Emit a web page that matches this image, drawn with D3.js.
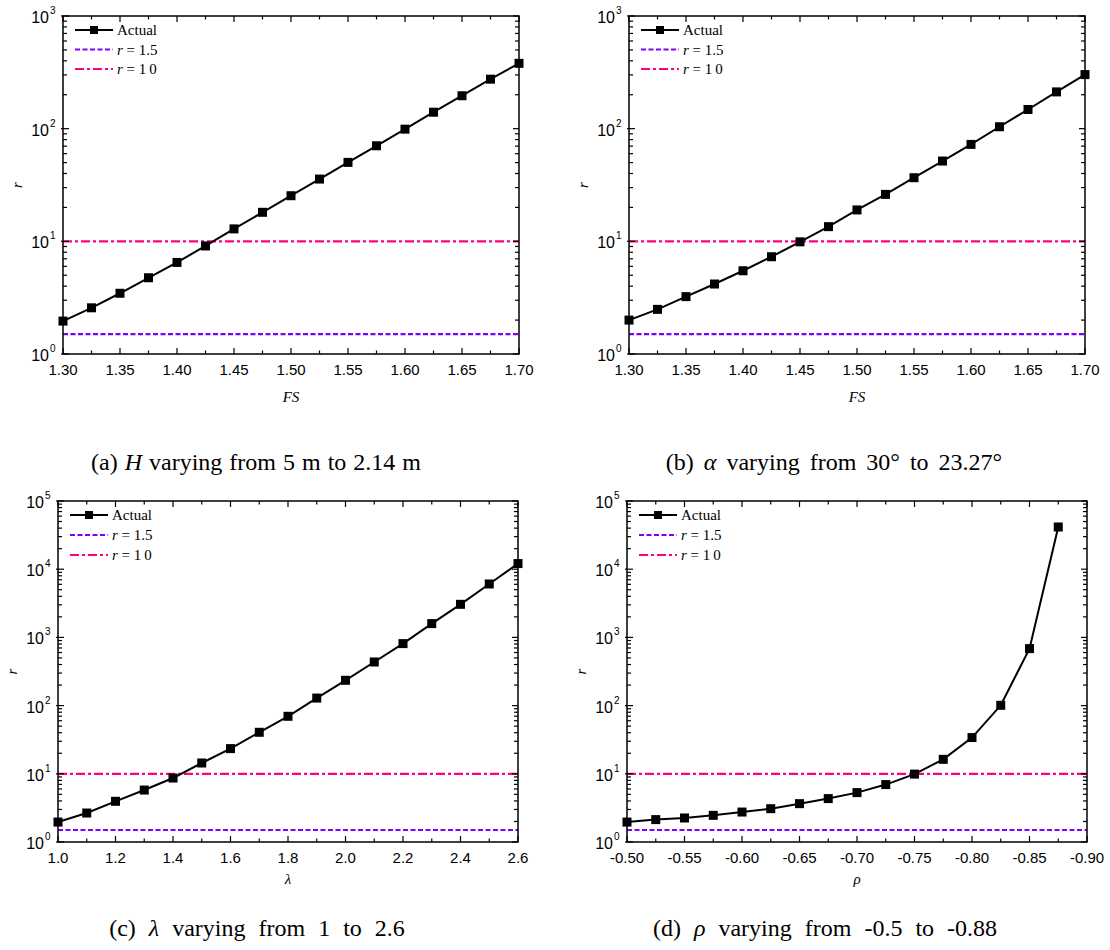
<!DOCTYPE html>
<html><head><meta charset="utf-8">
<script src="https://cdn.jsdelivr.net/npm/d3@7"></script>
<style>
body{margin:0;background:#fff;}
svg{display:block;}
</style></head>
<body>
<svg id="chart" width="1110" height="950"></svg>
<script>
// ---------- data ----------
const fsA = [1.300,1.325,1.350,1.375,1.400,1.425,1.450,1.475,1.500,1.525,1.550,1.575,1.600,1.625,1.650,1.675,1.700];
const rA  = [1.96,2.57,3.46,4.75,6.5,9.1,12.9,18.1,25.4,35.7,50.2,70.5,99,140,196,275,380];

const fsB = [1.300,1.325,1.350,1.375,1.400,1.425,1.450,1.475,1.500,1.525,1.550,1.575,1.600,1.625,1.650,1.675,1.700];
const rB  = [2.0,2.49,3.23,4.18,5.48,7.3,9.9,13.5,19.0,26.1,36.7,51.6,72.5,104,148,212,302];

const lambdaC = [1.0,1.1,1.2,1.3,1.4,1.5,1.6,1.7,1.8,1.9,2.0,2.1,2.2,2.3,2.4,2.5,2.6];
const rC      = [1.96,2.66,3.95,5.78,8.67,14.4,23.4,40.6,69.7,129,235,436,811,1593,3055,6070,12100];

const rhoD = [-0.500,-0.525,-0.550,-0.575,-0.600,-0.625,-0.650,-0.675,-0.700,-0.725,-0.750,-0.775,-0.800,-0.825,-0.850,-0.875];
const rD   = [1.96,2.13,2.25,2.46,2.75,3.08,3.65,4.33,5.3,6.95,9.9,16.3,34,101,685,41600];

const thresholdLow = 1.5;
const thresholdHigh = 10;

const xTicksAB = [1.30,1.35,1.40,1.45,1.50,1.55,1.60,1.65,1.70];
const xTicksC  = [1.0,1.2,1.4,1.6,1.8,2.0,2.2,2.4,2.6];
const xTicksD  = [-0.50,-0.55,-0.60,-0.65,-0.70,-0.75,-0.80,-0.85,-0.90];

const legendLabels = ["Actual","r = 1.5","r = 10"];

// ---------- drawing ----------
const svg = d3.select("#chart");
const serif = "'Liberation Serif','Times New Roman',serif";
const sans = "'Liberation Sans',Arial,sans-serif";
const purple = "#8000ff", pink = "#ff0080";

function panel(cfg){
  const g = svg.append("g");
  const {L,R,T,B} = cfg;
  const x = d3.scaleLinear().domain(cfg.xDomain).range([L,R]);
  const y = d3.scaleLog().domain([1, Math.pow(10,cfg.decades)]).range([B,T]);

  const minorX = [];
  for(let i=0;i<cfg.xTicks.length-1;i++) minorX.push((cfg.xTicks[i]+cfg.xTicks[i+1])/2);
  const minorY = [];
  for(let d=0; d<cfg.decades; d++) for(let k=2;k<=9;k++) minorY.push(k*Math.pow(10,d));
  const majorY = d3.range(0,cfg.decades+1).map(d=>Math.pow(10,d));

  // threshold lines
  g.append("line").attr("x1",L).attr("x2",R).attr("y1",y(thresholdLow)).attr("y2",y(thresholdLow))
    .attr("stroke",purple).attr("stroke-width",2.2).attr("stroke-dasharray","5,2.5");
  g.append("line").attr("x1",L).attr("x2",R).attr("y1",y(thresholdHigh)).attr("y2",y(thresholdHigh))
    .attr("stroke",pink).attr("stroke-width",2.2).attr("stroke-dasharray","9,3,3,3");

  // data line
  const pts = cfg.xs.map((v,i)=>[v,cfg.ys[i]]);
  g.append("path").datum(pts)
    .attr("d", d3.line().x(d=>x(d[0])).y(d=>y(d[1])))
    .attr("fill","none").attr("stroke","#000").attr("stroke-width",2);
  const ms = 9;
  g.selectAll("rect.m").data(pts).enter().append("rect")
    .attr("x",d=>x(d[0])-ms/2).attr("y",d=>y(d[1])-ms/2)
    .attr("width",ms).attr("height",ms).attr("fill","#000");

  // frame
  g.append("rect").attr("x",L).attr("y",T).attr("width",R-L).attr("height",B-T)
    .attr("fill","none").attr("stroke","#000").attr("stroke-width",1.5);

  // ticks
  const tk = g.append("g").attr("stroke","#000").attr("stroke-width",1.2);
  cfg.xTicks.forEach(v=>{
    tk.append("line").attr("x1",x(v)).attr("x2",x(v)).attr("y1",B).attr("y2",B-6);
    tk.append("line").attr("x1",x(v)).attr("x2",x(v)).attr("y1",T).attr("y2",T+6);
  });
  minorX.forEach(v=>{
    tk.append("line").attr("x1",x(v)).attr("x2",x(v)).attr("y1",B).attr("y2",B-3.5);
    tk.append("line").attr("x1",x(v)).attr("x2",x(v)).attr("y1",T).attr("y2",T+3.5);
  });
  majorY.forEach(v=>{
    tk.append("line").attr("x1",L-2).attr("x2",L+6).attr("y1",y(v)).attr("y2",y(v));
    tk.append("line").attr("x1",R).attr("x2",R-6).attr("y1",y(v)).attr("y2",y(v));
  });
  minorY.forEach(v=>{
    tk.append("line").attr("x1",L).attr("x2",L+4).attr("y1",y(v)).attr("y2",y(v));
    tk.append("line").attr("x1",R).attr("x2",R-4).attr("y1",y(v)).attr("y2",y(v));
  });

  // x tick labels
  g.selectAll("text.xt").data(cfg.xTicks).enter().append("text")
    .attr("x",d=>x(d)).attr("y",B+cfg.tickOff).attr("text-anchor","middle")
    .attr("font-family",sans).attr("font-size",15).text(d=>d.toFixed(cfg.xDec));

  // y tick labels 10^n
  majorY.forEach((v,i)=>{
    g.append("text").attr("x",L-14).attr("y",y(v)+7).attr("text-anchor","end")
      .attr("font-family",sans).attr("font-size",16).text("10");
    g.append("text").attr("x",L-13).attr("y",y(v)-2)
      .attr("font-family",sans).attr("font-size",10).text(String(i));
  });

  // axis labels
  g.append("text").attr("x",(L+R)/2).attr("y",B+cfg.labOff).attr("text-anchor","middle")
    .attr("font-family",serif).attr("font-style","italic").attr("font-size",15).text(cfg.xLabel);
  g.append("text").attr("transform",`translate(${L-41},${(T+B)/2}) rotate(-90)`)
    .attr("text-anchor","middle").attr("font-family",serif).attr("font-style","italic")
    .attr("font-size",15).text("r");

  // legend
  const lx = L+12, ly0 = T + cfg.legTop;
  const lg = g.append("g");
  const rows = [
    {c:"#000",dash:null,marker:true},
    {c:purple,dash:"5,2.5"},
    {c:pink,dash:"9,3,3,3"}
  ];
  rows.forEach((r,i)=>{
    const yy = ly0 + i*cfg.legStep;
    lg.append("line").attr("x1",lx).attr("x2",lx+38).attr("y1",yy).attr("y2",yy)
      .attr("stroke",r.c).attr("stroke-width",2).attr("stroke-dasharray",r.dash);
    if(r.marker) lg.append("rect").attr("x",lx+15).attr("y",yy-4).attr("width",8).attr("height",8).attr("fill","#000");
    const t = lg.append("text").attr("x",lx+42).attr("y",yy+5).attr("font-family",serif).attr("font-size",15);
    if(i===0) t.text(legendLabels[0]);
    else {
      const parts = legendLabels[i].split(" = ");
      t.append("tspan").attr("font-style","italic").text(parts[0]);
      t.append("tspan").text(" = ");
      if(i===2){ t.append("tspan").text("1"); t.append("tspan").attr("dx",3).text("0"); }
      else t.append("tspan").text(parts[1]);
    }
  });

  // caption
  const cap = g.append("text").attr("x",cfg.capX).attr("y",cfg.capY).attr("text-anchor","middle")
    .attr("font-family",serif).attr("font-size",24).attr("word-spacing",cfg.ws);
  cfg.caption.forEach(p=>{
    const ts = cap.append("tspan").text(p.t);
    if(p.i) ts.attr("font-style","italic");
  });
}

panel({L:63,R:519,T:16,B:354,xDomain:[1.3,1.7],xTicks:xTicksAB,xDec:2,decades:3,
  xs:fsA,ys:rA,xLabel:"FS",tickOff:21,labOff:48,legTop:14,legStep:19.5,capX:256,capY:470,ws:1,
  caption:[{t:"(a) "},{t:"H",i:true},{t:" varying from 5 m to 2.14 m"}]});
panel({L:629,R:1085,T:16,B:354,xDomain:[1.3,1.7],xTicks:xTicksAB,xDec:2,decades:3,
  xs:fsB,ys:rB,xLabel:"FS",tickOff:21,labOff:48,legTop:14,legStep:19.5,capX:834,capY:470,ws:4,
  caption:[{t:"(b) "},{t:"α",i:true},{t:" varying from 30° to 23.27°"}]});
panel({L:58,R:518,T:501,B:842,xDomain:[1.0,2.6],xTicks:xTicksC,xDec:1,decades:5,
  xs:lambdaC,ys:rC,xLabel:"λ",tickOff:21,labOff:42,legTop:14,legStep:20,capX:257,capY:936,ws:7,
  caption:[{t:"(c) "},{t:"λ",i:true},{t:" varying from 1 to 2.6"}]});
panel({L:627,R:1087,T:501,B:842,xDomain:[-0.5,-0.9],xTicks:xTicksD,xDec:2,decades:5,
  xs:rhoD,ys:rD,xLabel:"ρ",tickOff:21,labOff:42,legTop:14,legStep:20,capX:825,capY:936,ws:7,
  caption:[{t:"(d) "},{t:"ρ",i:true},{t:" varying from -0.5 to -0.88"}]});
</script>
</body></html>
